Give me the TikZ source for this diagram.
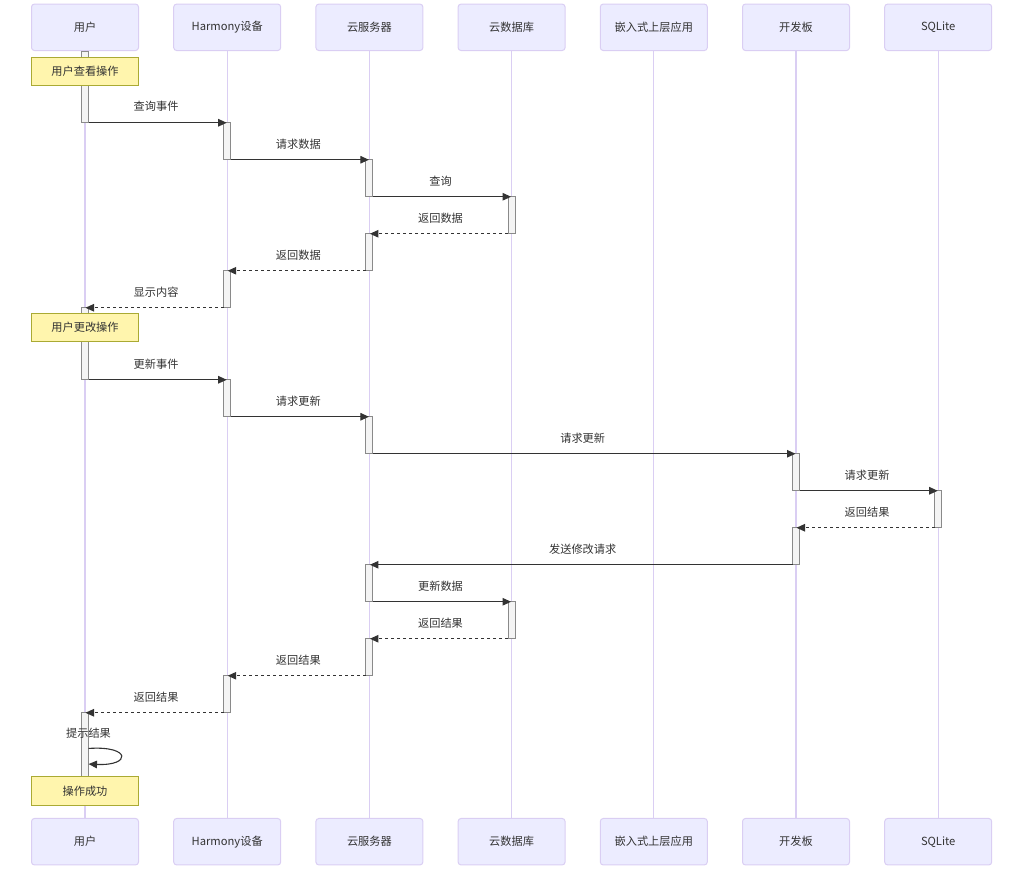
\documentclass[tikz,border=0pt]{standalone}
\usepackage{fontspec}
\setmainfont{Noto Sans CJK SC}
\usetikzlibrary{positioning}
\usetikzlibrary{arrows.meta}
\definecolor{actorfill}{HTML}{ECECFF}
\definecolor{actorline}{HTML}{DACEF3}
\definecolor{notefill}{HTML}{FFF5AD}
\definecolor{noteline}{HTML}{AAAA33}
\definecolor{barfill}{HTML}{F4F4F4}
\definecolor{barline}{HTML}{8A8A8A}
\definecolor{msgline}{HTML}{333333}

\begin{document}
\begin{tikzpicture}[x = 1pt, y = -1pt,
	every node/.style = {font = \fontsize{11.2}{13}\selectfont, text = msgline},
	actor/.style = {draw = actorline, fill = actorfill, rounded corners = 3pt, line width = 1pt,
		minimum width = 107pt, minimum height = 46.5pt, inner sep = 0pt},
	note/.style = {draw = noteline, fill = notefill, line width = 1pt,
		minimum width = 107pt, minimum height = 28.5pt, inner sep = 0pt},
	actbar/.style = {draw = barline, fill = barfill, line width = 1pt, anchor = north,
		minimum width = 7pt, inner sep = 0pt, outer sep = 0pt},
	life/.style = {draw = actorline, line width = 1.2pt},
	msg/.style = {draw = msgline, line width = 1.1pt, -{Triangle[length = 8.5pt, width = 7.5pt]}, shorten > = -3pt},
	reply/.style = {msg, dash pattern = on 3pt off 3pt},
	lbl/.style = {midway, yshift = 16pt}]
	\useasboundingbox (0, 0) rectangle (1018, 871);

	\node [actor] (user) at (85, 27.3) {用户};
	\node [actor, right = 34.2pt of user] (harmony) {Harmony设备};
	\node [actor, right = 34.2pt of harmony] (server) {云服务器};
	\node [actor, right = 34.2pt of server] (db) {云数据库};
	\node [actor, right = 34.2pt of db] (app) {嵌入式上层应用};
	\node [actor, right = 34.2pt of app] (board) {开发板};
	\node [actor, right = 34.2pt of board] (sqlite) {SQLite};

	\node [actor] (user-b) at (85, 841.7) {用户};
	\node [actor, right = 34.2pt of user-b] (harmony-b) {Harmony设备};
	\node [actor, right = 34.2pt of harmony-b] (server-b) {云服务器};
	\node [actor, right = 34.2pt of server-b] (db-b) {云数据库};
	\node [actor, right = 34.2pt of db-b] (app-b) {嵌入式上层应用};
	\node [actor, right = 34.2pt of app-b] (board-b) {开发板};
	\node [actor, right = 34.2pt of board-b] (sqlite-b) {SQLite};

	\draw [life] (user) -- (user-b);
	\draw [life] (harmony) -- (harmony-b);
	\draw [life] (server) -- (server-b);
	\draw [life] (db) -- (db-b);
	\draw [life] (app) -- (app-b);
	\draw [life] (board) -- (board-b);
	\draw [life] (sqlite) -- (sqlite-b);

	\node [actbar, minimum height = 71.7pt] (u1) at (user.south) {};
	\node [actbar, minimum height = 37pt] (h1) at (harmony |- u1.south) {};
	\node [actbar, minimum height = 37pt] (s1) at (server |- h1.south) {};
	\node [actbar, minimum height = 37pt] (d1) at (db |- s1.south) {};
	\node [actbar, minimum height = 37pt] (s2) at (server |- d1.south) {};
	\node [actbar, minimum height = 37pt] (h2) at (harmony |- s2.south) {};
	\node [actbar, minimum height = 72pt] (u2) at (user |- h2.south) {};
	\node [actbar, minimum height = 37pt] (h3) at (harmony |- u2.south) {};
	\node [actbar, minimum height = 37pt] (s3) at (server |- h3.south) {};
	\node [actbar, minimum height = 37pt] (b1) at (board |- s3.south) {};
	\node [actbar, minimum height = 37pt] (q1) at (sqlite |- b1.south) {};
	\node [actbar, minimum height = 37pt] (b2) at (board |- q1.south) {};
	\node [actbar, minimum height = 37pt] (s4) at (server |- b2.south) {};
	\node [actbar, minimum height = 37pt] (d2) at (db |- s4.south) {};
	\node [actbar, minimum height = 37pt] (s5) at (server |- d2.south) {};
	\node [actbar, minimum height = 37pt] (h4) at (harmony |- s5.south) {};
	\node [actbar, minimum height = 64pt] (u3) at (user |- h4.south) {};

	\node [note] (view) at (user |- 0, 71.3) {用户查看操作};
	\node [note] (change) at (user |- 0, 327.5) {用户更改操作};
	\node [note] (done) at (user |- 0, 790.8) {操作成功};

	\draw [msg] (u1.south east) -- node [lbl] {查询事件} (h1.north west);
	\draw [msg] (h1.south east) -- node [lbl] {请求数据} (s1.north west);
	\draw [msg] (s1.south east) -- node [lbl] {查询} (d1.north west);
	\draw [reply] (d1.south west) -- node [lbl] {返回数据} (s2.north east);
	\draw [reply] (s2.south west) -- node [lbl] {返回数据} (h2.north east);
	\draw [reply] (h2.south west) -- node [lbl] {显示内容} (u2.north east);
	\draw [msg] (u2.south east) -- node [lbl] {更新事件} (h3.north west);
	\draw [msg] (h3.south east) -- node [lbl] {请求更新} (s3.north west);
	\draw [msg] (s3.south east) -- node [lbl] {请求更新} (b1.north west);
	\draw [msg] (b1.south east) -- node [lbl] {请求更新} (q1.north west);
	\draw [reply] (q1.south west) -- node [lbl] {返回结果} (b2.north east);
	\draw [msg] (b2.south west) -- node [lbl] {发送修改请求} (s4.north east);
	\draw [msg] (s4.south east) -- node [lbl] {更新数据} (d2.north west);
	\draw [reply] (d2.south west) -- node [lbl] {返回结果} (s5.north east);
	\draw [reply] (s5.south west) -- node [lbl] {返回结果} (h4.north east);
	\draw [reply] (h4.south west) -- node [lbl] {返回结果} (u3.north east);

	\coordinate (self-s) at ([yshift = -35.7pt] u3.north east);
	\coordinate (self-e) at ([yshift = -51.3pt] u3.north east);
	\node (self-lbl) at ([yshift = 15pt] self-s) {提示结果};
	\draw [msg, shorten > = 0pt] (self-s) .. controls +(43, -3) and +(43, 2) .. (self-e);
\end{tikzpicture}
\end{document}
